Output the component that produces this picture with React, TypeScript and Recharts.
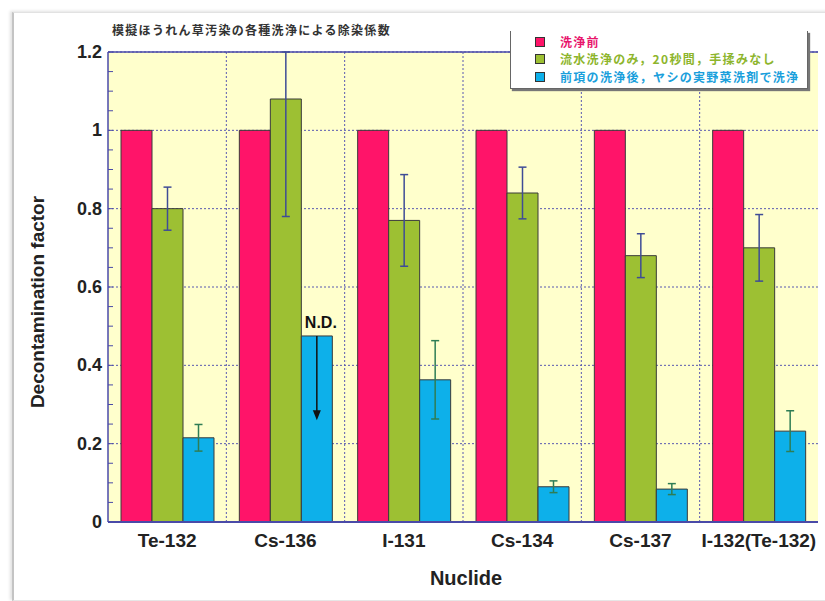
import React from 'react';
import {
    BarChart,
    Bar,
    XAxis,
    YAxis,
    CartesianGrid,
    ErrorBar,
    Legend,
    LabelList,
    ReferenceLine
} from 'recharts';

const nuclides = ['Te-132', 'Cs-136', 'I-131', 'Cs-134', 'Cs-137', 'I-132(Te-132)'];
const beforeWash = [1, 1, 1, 1, 1, 1];
const waterOnly = [0.8, 1.08, 0.77, 0.84, 0.68, 0.7];
const waterOnlyErr = [0.055, 0.3, 0.117, 0.066, 0.056, 0.085];
const detergent = [0.215, 0.475, 0.363, 0.09, 0.084, 0.232];
const detergentErr = [0.034, null, 0.1, 0.015, 0.014, 0.052];
// Cs-136 was not detected after detergent wash: the bar is the detection limit
const ndLabels = [null, 'N.D.', null, null, null, null];
const ndArrowTo = 0.26;

const yMax = 1.2;
const yMajorTicks = [0, 0.2, 0.4, 0.6, 0.8, 1, 1.2];

const series = [
    { key: 'before', name: '洗浄前', color: '#ff1469', text: '#e8156c' },
    { key: 'water', name: '流水洗浄のみ，20秒間，手揉みなし', color: '#9dc033', text: '#8db52c' },
    { key: 'det', name: '前項の洗浄後，ヤシの実野菜洗剤で洗浄', color: '#0db0ea', text: '#1a9fdc' }
];

const data = nuclides.map((name, i) => ({
    name,
    before: beforeWash[i],
    water: waterOnly[i],
    waterErr: waterOnlyErr[i],
    det: detergent[i],
    detErr: detergentErr[i],
    nd: ndLabels[i]
}));

// quarter steps between the labelled ticks
const yTicks: number[] = [];
yMajorTicks.forEach((t, i) => {
    yTicks.push(t);
    const next = yMajorTicks[i + 1];
    if (next !== undefined) {
        for (let k = 1; k < 4; k++) yTicks.push(+(t + ((next - t) * k) / 4).toFixed(3));
    }
});

// error whiskers stop at the top of the plot
const waterWhisker = (d: any) => [d.waterErr, Math.min(d.waterErr, yMax - d.water)];

const latin = '"Liberation Sans", Arial, sans-serif';
const cjk = '"Noto Sans CJK JP", sans-serif';
const axisBlue = '#4a4aa8';

const YTick = (props: any) => {
    const { x, y, payload } = props;
    const major = yMajorTicks.some((t) => Math.abs(t - payload.value) < 1e-6);
    return (
        <g>
            <line x1={x + 6} y1={y} x2={x + 11} y2={y} stroke={axisBlue} strokeWidth={1} />
            {major && (
                <text x={x} y={y} dy={6} textAnchor="end" fontFamily={latin} fontWeight="bold" fontSize={18} fill="#222">
                    {payload.value}
                </text>
            )}
        </g>
    );
};

const NdMarker = (props: any) => {
    const { x, y, width, height, value, index } = props;
    if (!value) return null;
    const v = detergent[index];
    const cx = x + width / 2;
    const yEnd = y + height * (1 - ndArrowTo / v);
    return (
        <g>
            <text x={cx + 4} y={y - 8} textAnchor="middle" fontFamily={latin} fontWeight="bold" fontSize={16} fill="#111">
                {value}
            </text>
            <line x1={cx} y1={y} x2={cx} y2={yEnd - 8} stroke="#111" strokeWidth={1.5} />
            <polygon points={`${cx - 4},${yEnd - 10} ${cx + 4},${yEnd - 10} ${cx},${yEnd}`} fill="#111" />
        </g>
    );
};

const LegendBox = () => (
    <div
        style={{
            width: 298,
            height: 58,
            background: '#fff',
            borderLeft: '1px solid #666',
            borderRight: '1px solid #666',
            borderBottom: '1px solid #666',
            boxShadow: '2px 2px 1px #777',
            padding: '2px 0 0 24px',
            boxSizing: 'border-box'
        }}
    >
        {series.map((s) => (
            <div key={s.key} style={{ display: 'flex', alignItems: 'center', height: 17.6, lineHeight: '16px' }}>
                <span
                    style={{
                        width: 8,
                        height: 8,
                        background: s.color,
                        border: '1px solid #333',
                        marginRight: 15,
                        flexShrink: 0
                    }}
                />
                <span
                    style={{
                        fontFamily: cjk,
                        fontWeight: 'bold',
                        fontSize: 12,
                        letterSpacing: 1.3,
                        color: s.text,
                        whiteSpace: 'nowrap'
                    }}
                >
                    {s.name}
                </span>
            </div>
        ))}
    </div>
);

const App = () => {
    return (
        <div style={{ position: 'fixed', left: 0, top: 0, width: 825, height: 601, background: '#fff', overflow: 'hidden' }}>
            <div
                style={{
                    position: 'absolute',
                    left: 12,
                    top: 12,
                    width: 860,
                    height: 587,
                    borderLeft: '2px solid #c4c4c4',
                    borderTop: '1px solid #e2e2e2',
                    borderBottom: '1px solid #e6e6e6',
                    boxShadow: '-2px -1px 3px rgba(0,0,0,0.12)'
                }}
            />
            <div
                style={{
                    position: 'absolute',
                    left: 112,
                    top: 22,
                    fontFamily: cjk,
                    fontSize: 12,
                    lineHeight: '16px',
                    fontWeight: 'bold',
                    color: '#333',
                    letterSpacing: 1.3,
                    whiteSpace: 'nowrap'
                }}
            >
                模擬ほうれん草汚染の各種洗浄による除染係数
            </div>
            <div
                style={{
                    position: 'absolute',
                    left: 38,
                    top: 302,
                    transform: 'translate(-50%, -50%) rotate(-90deg)',
                    fontFamily: latin,
                    fontWeight: 'bold',
                    fontSize: 19,
                    color: '#222',
                    whiteSpace: 'nowrap'
                }}
            >
                Decontamination factor
            </div>
            <div
                style={{
                    position: 'absolute',
                    left: 466,
                    top: 578,
                    transform: 'translate(-50%, -50%)',
                    fontFamily: latin,
                    fontWeight: 'bold',
                    fontSize: 20,
                    color: '#222'
                }}
            >
                Nuclide
            </div>
            <div style={{ position: 'absolute', left: 0, top: 0 }}>
                <BarChart
                    width={825}
                    height={601}
                    data={data}
                    margin={{ top: 52, right: 7, bottom: 49, left: 48 }}
                    barCategoryGap={13}
                    barGap={0}
                >
                    <CartesianGrid
                        fill="#ffffcc"
                        stroke="#5858b0"
                        strokeDasharray="2 2"
                        horizontalValues={yMajorTicks}
                        verticalCoordinatesGenerator={({ offset }: any) =>
                            nuclides.slice(1).map((_, i) => offset.left + (offset.width * (i + 1)) / nuclides.length)
                        }
                    />
                    <XAxis
                        dataKey="name"
                        interval={0}
                        height={30}
                        tickLine={false}
                        axisLine={{ stroke: axisBlue, strokeWidth: 2 }}
                        tick={{ fontFamily: latin, fontWeight: 'bold', fontSize: 19, fill: '#222' }}
                        tickMargin={6}
                    />
                    <YAxis
                        domain={[0, yMax]}
                        ticks={yTicks}
                        interval={0}
                        allowDataOverflow
                        width={60}
                        tickLine={false}
                        tickSize={0}
                        tickMargin={6}
                        axisLine={{ stroke: axisBlue, strokeWidth: 1.5 }}
                        tick={<YTick />}
                    />
                    <ReferenceLine y={yMax} stroke={axisBlue} strokeWidth={1.5} />
                    <Legend
                        layout="horizontal"
                        verticalAlign="middle"
                        align="center"
                        wrapperStyle={{ left: 510, top: 31, width: 300 }}
                        content={<LegendBox />}
                    />
                    <Bar dataKey="before" name={series[0].name} fill={series[0].color} stroke="#3a3a3a" strokeWidth={1} isAnimationActive={false} />
                    <Bar dataKey="water" name={series[1].name} fill={series[1].color} stroke="#3a3a3a" strokeWidth={1} isAnimationActive={false}>
                        <ErrorBar dataKey={waterWhisker} direction="y" width={4} stroke="#3f4c96" strokeWidth={1.5} />
                    </Bar>
                    <Bar dataKey="det" name={series[2].name} fill={series[2].color} stroke="#3a3a3a" strokeWidth={1} isAnimationActive={false}>
                        <ErrorBar dataKey="detErr" direction="y" width={4} stroke="#2f7d55" strokeWidth={1.5} />
                        <LabelList dataKey="nd" content={<NdMarker />} />
                    </Bar>
                </BarChart>
            </div>
        </div>
    );
};

export default App;
